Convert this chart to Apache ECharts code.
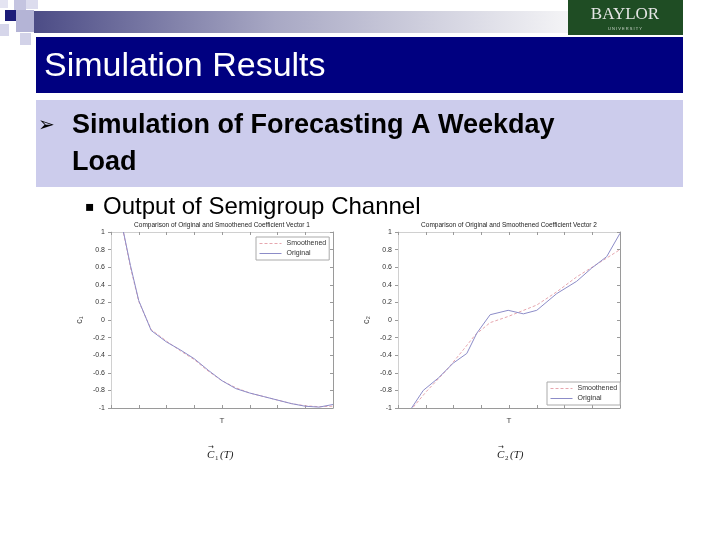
<!DOCTYPE html>
<html>
<head>
<meta charset="utf-8">
<script src="https://cdn.jsdelivr.net/npm/echarts@6/dist/echarts.min.js"></script>
<style>html,body{margin:0;padding:0;background:#fff;}#c{width:720px;height:540px;}</style>
</head>
<body>
<div id="c"></div>
<script>
// ---- data ----
var slideTitle = 'Simulation Results';
var bulletLine1 = 'Simulation of Forecasting A Weekday';
var bulletLine2 = 'Load';
var subBullet = 'Output of Semigroup Channel';
var chartTitles = ['Comparison of Original and Smoothened Coefficient Vector 1',
                   'Comparison of Original and Smoothened Coefficient Vector 2'];
var seriesNames = ['Smoothened', 'Original'];

var t1 = [0.45, 0.7, 1.0, 1.45, 2.0, 2.5, 3.0, 3.5, 4.0, 4.5, 5.0, 5.5, 6.0, 6.5, 7.0, 7.5, 8.0];
var c1Original = [1.0, 0.62, 0.22, -0.12, -0.25, -0.34, -0.44, -0.57, -0.69, -0.78, -0.83, -0.87, -0.91, -0.95, -0.98, -0.99, -0.96];
var c1Smoothed = [0.99, 0.60, 0.21, -0.11, -0.24, -0.35, -0.45, -0.58, -0.69, -0.77, -0.83, -0.87, -0.91, -0.95, -0.975, -0.985, -0.98];

var t2Original = [0.49, 0.91, 1.45, 1.99, 2.48, 2.84, 3.32, 3.97, 4.52, 5.0, 5.72, 6.44, 6.98, 7.52, 8.0];
var c2Original = [-1.0, -0.80, -0.66, -0.49, -0.38, -0.15, 0.06, 0.11, 0.07, 0.11, 0.30, 0.44, 0.59, 0.72, 0.985];
var t2Smoothed = [0.55, 1.03, 1.75, 2.35, 2.78, 3.32, 3.97, 5.0, 5.72, 6.44, 7.4, 8.0];
var c2Smoothed = [-0.99, -0.81, -0.57, -0.34, -0.17, -0.03, 0.04, 0.17, 0.32, 0.49, 0.68, 0.80];

var yNames = ['c\u2081', 'c\u2082'];
var bottomSubs = ['1', '2'];

function zip(xs, ys) { return xs.map(function (x, i) { return [x, ys[i]]; }); }

// ---- layout ----
var grids = [
  { left: 111, top: 232, width: 222, height: 176 },
  { left: 398, top: 232, width: 222, height: 176 }
];
var origColor = '#8c8cc8';
var smoothColor = '#e6a6ae';
var axisGray = '#9a9a9a';

var chart = echarts.init(document.getElementById('c'), null, { renderer: 'canvas' });

var xAxes = [], yAxes = [];
grids.forEach(function (g, i) {
  xAxes.push({
    type: 'value', gridIndex: i, min: 0, max: 8, interval: 1,
    name: 'T', nameLocation: 'middle', nameGap: 9,
    nameTextStyle: { fontSize: 8, color: '#444', fontFamily: 'Liberation Sans' },
    axisLine: { show: true, onZero: false, lineStyle: { color: axisGray } },
    axisTick: { show: true, inside: true, length: 3, lineStyle: { color: axisGray } },
    axisLabel: { show: false }, splitLine: { show: false }
  });
  xAxes.push({
    type: 'value', gridIndex: i, min: 0, max: 8, interval: 1, position: 'top',
    axisLine: { show: true, onZero: false, lineStyle: { color: '#d0d0d0' } },
    axisTick: { show: true, inside: true, length: 3, lineStyle: { color: axisGray } },
    axisLabel: { show: false }, splitLine: { show: false }
  });
  yAxes.push({
    type: 'value', gridIndex: i, min: -1, max: 1, interval: 0.2,
    name: yNames[i], nameLocation: 'middle', nameGap: 27, nameRotate: 90,
    nameTextStyle: { fontSize: 9, color: '#444', fontFamily: 'Liberation Sans' },
    axisLine: { show: true, onZero: false, lineStyle: { color: '#d0d0d0' } },
    axisTick: { show: true, inside: false, length: 3, lineStyle: { color: axisGray } },
    axisLabel: { show: true, fontSize: 7, color: '#333', margin: 6, fontFamily: 'Liberation Sans',
      formatter: function (v) { return String(Math.round(v * 10) / 10); } },
    splitLine: { show: false }
  });
  yAxes.push({
    type: 'value', gridIndex: i, min: -1, max: 1, interval: 0.2, position: 'right',
    axisLine: { show: true, onZero: false, lineStyle: { color: axisGray } },
    axisTick: { show: true, inside: true, length: 3, lineStyle: { color: axisGray } },
    axisLabel: { show: false }, splitLine: { show: false }
  });
});

var series = [
  { name: seriesNames[0], type: 'line', xAxisIndex: 0, yAxisIndex: 0, data: zip(t1, c1Smoothed),
    symbol: 'none', lineStyle: { color: smoothColor, width: 1, type: [3, 2] }, itemStyle: { color: smoothColor }, silent: true },
  { name: seriesNames[1], type: 'line', xAxisIndex: 0, yAxisIndex: 0, data: zip(t1, c1Original),
    symbol: 'none', lineStyle: { color: origColor, width: 1 }, itemStyle: { color: origColor }, silent: true },
  { name: seriesNames[0], type: 'line', xAxisIndex: 2, yAxisIndex: 2, data: zip(t2Smoothed, c2Smoothed),
    symbol: 'none', lineStyle: { color: smoothColor, width: 1, type: [3, 2] }, itemStyle: { color: smoothColor }, silent: true },
  { name: seriesNames[1], type: 'line', xAxisIndex: 2, yAxisIndex: 2, data: zip(t2Original, c2Original),
    symbol: 'none', lineStyle: { color: origColor, width: 1 }, itemStyle: { color: origColor }, silent: true }
];

var legendCommon = {
  orient: 'vertical', itemWidth: 22, itemHeight: 6, itemGap: 3,
  data: [
    { name: seriesNames[0], itemStyle: { opacity: 0 }, lineStyle: { color: smoothColor, width: 1, type: [3, 2] } },
    { name: seriesNames[1], itemStyle: { opacity: 0 }, lineStyle: { color: origColor, width: 1 } }
  ],
  textStyle: { fontSize: 7, color: '#333', fontFamily: 'Liberation Sans' },
  backgroundColor: '#fff', borderColor: '#aaa', borderWidth: 1, padding: [3, 3, 3, 3],
  selectedMode: false
};

function mathLabel(cx, sub) {
  return { type: 'group', x: cx - 15, y: 455, children: [
    { type: 'text', x: 0, y: 0, style: { text: 'C', fill: '#222', font: 'italic 11px "Liberation Serif"', verticalAlign: 'middle' } },
    { type: 'text', x: 1, y: -8, style: { text: '\u2192', fill: '#222', font: '7px "DejaVu Sans"', verticalAlign: 'middle' } },
    { type: 'text', x: 8, y: 3, style: { text: sub, fill: '#222', font: '7px "Liberation Serif"', verticalAlign: 'middle' } },
    { type: 'text', x: 13, y: 0, style: { text: '(T)', fill: '#222', font: 'italic 11px "Liberation Serif"', verticalAlign: 'middle' } }
  ] };
}

var graphics = [
  // top-left decoration squares
  { type: 'rect', shape: { x: 14, y: 0, width: 12, height: 10 }, style: { fill: '#c4c4e0' } },
  { type: 'rect', shape: { x: 26, y: 0, width: 12, height: 9 }, style: { fill: '#dcdcee' } },
  { type: 'rect', shape: { x: 0, y: 0, width: 8, height: 8 }, style: { fill: '#e4e4f2' } },
  { type: 'rect', shape: { x: 5, y: 10, width: 11, height: 11 }, style: { fill: '#1c1c78' } },
  { type: 'rect', shape: { x: 16, y: 10, width: 18, height: 22 }, style: { fill: '#b4b4d6' } },
  { type: 'rect', shape: { x: 0, y: 24, width: 9, height: 12 }, style: { fill: '#d6d6ea' } },
  { type: 'rect', shape: { x: 20, y: 33, width: 11, height: 12 }, style: { fill: '#d2d2e8' } },
  // gradient bar
  { type: 'rect', shape: { x: 34, y: 11, width: 534, height: 22 },
    style: { fill: new echarts.graphic.LinearGradient(0, 0, 1, 0, [
      { offset: 0, color: '#4c4c86' }, { offset: 0.45, color: '#a8a8c4' }, { offset: 1, color: '#f4f4f6' }]) } },
  // Baylor logo
  { type: 'rect', shape: { x: 568, y: 0, width: 115, height: 35 }, style: { fill: '#1f4d24' } },
  { type: 'text', x: 625, y: 15, style: { text: 'BAYLOR', fill: '#e6e6e6', font: '17px "Liberation Serif"', align: 'center', verticalAlign: 'middle' } },
  { type: 'text', x: 625, y: 29, style: { text: 'U N I V E R S I T Y', fill: '#cfd8cf', font: '4px "Liberation Sans"', align: 'center', verticalAlign: 'middle' } },
  // title bar
  { type: 'rect', shape: { x: 36, y: 37, width: 647, height: 56 }, style: { fill: '#000080' } },
  { type: 'text', x: 44, y: 67, style: { text: slideTitle, fill: '#ffffff', font: '34px "Liberation Sans"', verticalAlign: 'middle' } },
  // bullet box
  { type: 'rect', shape: { x: 36, y: 100, width: 647, height: 87 }, style: { fill: '#ccccec' } },
  { type: 'text', x: 38, y: 126, style: { text: '\u27A2', fill: '#000', font: '20px "DejaVu Sans"', verticalAlign: 'middle' } },
  { type: 'text', x: 72, y: 126, style: { text: bulletLine1, fill: '#000', font: 'bold 27px "Liberation Sans"', verticalAlign: 'middle' } },
  { type: 'text', x: 72, y: 163, style: { text: bulletLine2, fill: '#000', font: 'bold 27px "Liberation Sans"', verticalAlign: 'middle' } },
  { type: 'text', x: 85, y: 207, style: { text: '\u25AA', fill: '#000', font: '14px "DejaVu Sans"', verticalAlign: 'middle' } },
  { type: 'text', x: 103, y: 207, style: { text: subBullet, fill: '#000', font: '24px "Liberation Sans"', verticalAlign: 'middle' } },
  // chart titles
  { type: 'text', x: 222, y: 225, style: { text: chartTitles[0], fill: '#222', font: '6.5px "Liberation Sans"', align: 'center', verticalAlign: 'middle' } },
  { type: 'text', x: 509, y: 225, style: { text: chartTitles[1], fill: '#222', font: '6.5px "Liberation Sans"', align: 'center', verticalAlign: 'middle' } },
  // bottom math labels
  mathLabel(222, bottomSubs[0]),
  mathLabel(512, bottomSubs[1])
];

chart.setOption({
  animation: false,
  backgroundColor: '#ffffff',
  grid: grids.map(function (g) { return Object.assign({ show: false, containLabel: false }, g); }),
  xAxis: xAxes,
  yAxis: yAxes,
  legend: [
    Object.assign({ left: 256, top: 237 }, legendCommon),
    Object.assign({ left: 547, top: 382 }, legendCommon)
  ],
  series: series,
  graphic: graphics
});
</script>
</body>
</html>
